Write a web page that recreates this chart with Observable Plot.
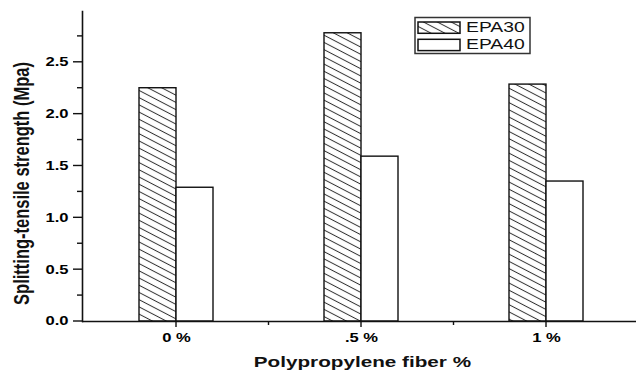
<!DOCTYPE html>
<html>
<head>
<meta charset="utf-8">
<script src="https://cdn.jsdelivr.net/npm/d3@7"></script>
<script src="https://cdn.jsdelivr.net/npm/@observablehq/plot@0.6"></script>
<style>
  html, body { margin: 0; padding: 0; background: #fff; }
  #chart svg { display: block; font-family: "Liberation Sans", Arial, sans-serif; }
</style>
</head>
<body>
<div id="chart"></div>
<script>
// Splitting-tensile strength by polypropylene fiber content
const fiber = ["0 %", ".5 %", "1 %"];
const seriesNames = ["EPA30", "EPA40"];
const epa30 = [2.25, 2.78, 2.285];
const epa40 = [1.29, 1.59, 1.35];
const yMajor = [0, 0.5, 1, 1.5, 2, 2.5];
const yMinor = [0.25, 0.75, 1.25, 1.75, 2.25, 2.75];
const xTitle = "Polypropylene fiber %";
const yTitle = "Splitting-tensile strength (Mpa)";

const rows30 = fiber.map((f, i) => ({fiber: f, value: epa30[i]}));
const rows40 = fiber.map((f, i) => ({fiber: f, value: epa40[i]}));

const W = 636, H = 371;
const SX = 1.38;          // horizontal widening applied to all text
const HALF = 37;          // half of each group's band: one bar per side
const INK = "#111";

const plot = Plot.plot({
  width: W,
  height: H,
  marginLeft: 82,
  marginRight: 0,
  marginTop: 11,
  marginBottom: 50,
  style: {fontFamily: "'Liberation Sans', Arial, sans-serif", background: "#fff"},
  x: {domain: fiber, range: [83, 639], paddingInner: 0.6007, paddingOuter: 0.3004, label: null},
  y: {domain: [0, 2.99], label: null},
  marks: [
    Plot.barY(rows30, {x: "fiber", y: "value", fill: "url(#hatch)", stroke: INK, strokeWidth: 1.4, insetRight: HALF}),
    Plot.barY(rows40, {x: "fiber", y: "value", fill: "#fff", stroke: INK, strokeWidth: 1.4, insetLeft: HALF}),
    // labels only; tick marks are drawn below as solid bars
    Plot.axisY({ticks: yMajor, tickSize: 9, tickPadding: 5, tickFormat: d3.format(".1f"), stroke: "none",
                fontWeight: "bold", fontSize: 12, label: null}),
    Plot.axisX({tickSize: 6, tickPadding: 6, stroke: "none", fontWeight: "bold", fontSize: 12, label: null}),
    Plot.ruleY([0], {stroke: INK, strokeWidth: 1.5}),
    Plot.frame({anchor: "left", stroke: INK, strokeWidth: 1.6})
  ]
});

document.getElementById("chart").appendChild(plot);
const svg = d3.select(plot);

// diagonal hatch used by the EPA30 bars
const defs = svg.append("defs");
const pat = defs.append("pattern")
  .attr("id", "hatch")
  .attr("patternUnits", "userSpaceOnUse")
  .attr("width", 10).attr("height", 6.4)
  .attr("patternTransform", "rotate(27.5)");
pat.append("rect").attr("width", 10).attr("height", 6.4).attr("fill", "#fff");
pat.append("line").attr("x1", 0).attr("x2", 10).attr("y1", 3.2).attr("y2", 3.2)
  .attr("stroke", "#333").attr("stroke-width", 1);

// widen tick labels around their anchor points
svg.selectAll("text").each(function () {
  if (!this.textContent) return;
  const t = this.getAttribute("transform") || "";
  this.setAttribute("transform", `${t} scale(${SX},1)`);
});

// tick marks from the chart's own scales
const xs = plot.scale("x");
const ys = plot.scale("y");
const x0 = 82, y0 = ys.apply(0), TW = 1.4;
const ticks = svg.append("g").attr("fill", INK);
yMajor.forEach(v => ticks.append("rect")
  .attr("x", x0 - 9).attr("y", ys.apply(v) - TW / 2).attr("width", 9).attr("height", TW));
yMinor.forEach(v => ticks.append("rect")
  .attr("x", x0 - 5).attr("y", ys.apply(v) - TW / 2).attr("width", 5).attr("height", TW));
fiber.forEach(f => {
  const cx = xs.apply(f) + xs.bandwidth / 2;
  ticks.append("rect").attr("x", cx - TW / 2).attr("y", y0).attr("width", TW).attr("height", 6);
});
for (let i = 0; i < fiber.length - 1; i++) {
  const m = (xs.apply(fiber[i]) + xs.apply(fiber[i + 1])) / 2 + xs.bandwidth / 2;
  ticks.append("rect").attr("x", m - TW / 2).attr("y", y0).attr("width", TW).attr("height", 4);
}

// axis titles
svg.append("text")
  .attr("transform", `translate(362.4,366.5) scale(${SX},1)`)
  .attr("text-anchor", "middle")
  .attr("font-weight", "bold").attr("font-size", 15).attr("fill", INK)
  .text(xTitle);
svg.append("text")
  .attr("transform", `translate(28.5,183.5) scale(${SX},1) rotate(-90)`)
  .attr("text-anchor", "middle")
  .attr("font-weight", "bold").attr("font-size", 16.5).attr("fill", INK)
  .text(yTitle);

// legend
const lg = svg.append("g");
lg.append("rect").attr("x", 415).attr("y", 17.5).attr("width", 115).attr("height", 36)
  .attr("fill", "#fff").attr("stroke", "#333").attr("stroke-width", 1.5);
const swatchFill = ["url(#hatch)", "#fff"];
const rowY = [22, 39.3];
seriesNames.forEach((name, i) => {
  lg.append("rect").attr("x", 418).attr("y", rowY[i]).attr("width", 42).attr("height", 11.3)
    .attr("fill", swatchFill[i]).attr("stroke", INK).attr("stroke-width", 1.5);
  lg.append("text")
    .attr("transform", `translate(466,${rowY[i] + 10}) scale(${SX},1)`)
    .attr("text-anchor", "start")
    .attr("font-size", 14).attr("fill", INK)
    .text(name);
});
</script>
</body>
</html>
